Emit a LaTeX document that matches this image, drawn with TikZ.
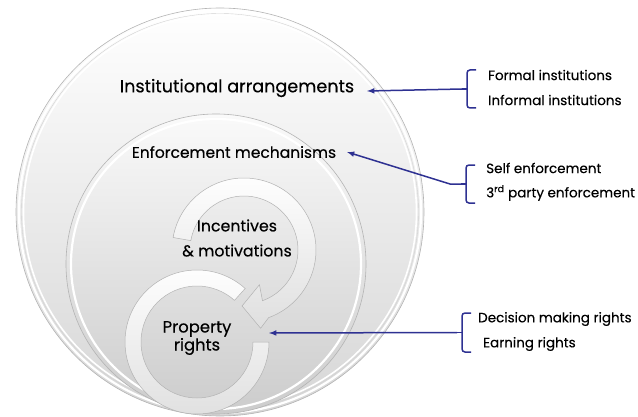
\documentclass[tikz,border=0pt]{standalone}
\usepackage{fontspec}
\setmainfont{Poppins}[FakeBold=0.35]
\usetikzlibrary{positioning}
\definecolor{linkblue}{RGB}{46,49,146}
\definecolor{rimgray}{RGB}{180,180,180}

\begin{document}
\begin{tikzpicture}[x=1pt, y=1pt,
    bubble/.style={draw=rimgray, line width=0.6pt},
    rim/.style={draw=white, line width=2.2pt},
    ring/.style={draw=gray!60, line width=0.5pt, top color=white, bottom color=gray!25},
    label/.style={inner sep=1pt, text=black, align=center},
    item/.style={inner sep=1pt, anchor=west, font=\fontsize{13.5}{16}\selectfont},
    link/.style={draw=linkblue, line width=1.5pt, ->, >=latex},
    brace/.style={draw=linkblue, line width=1.5pt, rounded corners=3pt}]
  \useasboundingbox (0,0) rectangle (638,416);
  \clip (0,0) rectangle (638,416);

  \coordinate (c1) at (220,204);
  \coordinate (c2) at (216,152);
  \coordinate (c3) at (244,166);
  \coordinate (c4) at (197,74);

  % outer and middle bubble
  \path[bubble, top color=white, bottom color=gray!32] (c1) circle (204);
  \draw[rim] (c1) circle (201);
  \draw[gray!35, line width=0.4pt] (c1) circle (198.5);
  \draw[white, line width=1.6pt] (c1) circle (196.5);
  \path[bubble, top color=gray!4, bottom color=gray!40] (c2) circle (150);
  \draw[rim] (c2) circle (145);

  % lower ring, then the upper arrow on top of it
  \path[ring, shift={(c4)}] (48:72) arc[start angle=48, end angle=360, radius=72]
    -- (0:56) arc[start angle=360, end angle=48, radius=56] -- cycle;
  \path[ring, shift={(c3)}] (170:72) arc[start angle=170, end angle=-70, radius=72]
    -- (-78:80) -- (-92:56) -- (-66:38) -- (-70:54)
    arc[start angle=-70, end angle=170, radius=54] -- cycle;

  \node[label, font=\fontsize{17.6}{20}\selectfont] (ia) at (237,328) {Institutional arrangements};
  \node[label, font=\fontsize{15.5}{17}\selectfont] (em) at (234,264) {Enforcement mechanisms};
  \node[label, font=\fontsize{15.8}{25}\selectfont] (im) at (237,178) {Incentives\\\& motivations};
  \node[label, font=\fontsize{16.4}{18}\selectfont] (pr) at (197,78) {Property\\rights};

  \node[item] (fi) at (487,341) {Formal institutions};
  \node[item, below=25pt of fi.west, anchor=west] (ii) {Informal institutions};
  \node[item] (se) at (485,248) {Self enforcement};
  \node[item, below=25pt of se.west, anchor=west] (tp) {3\textsuperscript{rd} party enforcement};
  \node[item] (dm) at (477,97) {Decision making rights};
  \node[item, below=25pt of dm.west, anchor=west, xshift=5pt] (er) {Earning rights};

  %brackets with a nub in the middle
  \foreach \n/\x/\yt/\yb in {b1/467/346/308, b2/466/251/213, b3/462/103/64} {
    \draw[brace] (\x+9,\yt) -- (\x,\yt) -- (\x,\yb) -- (\x+9,\yb);
    \coordinate (\n) at (\x-5,{(\yt+\yb)/2});
    \draw[brace] (\x,{(\yt+\yb)/2}) -- (\n);
  }

  \coordinate (t1) at (367,325);
  \coordinate (t2) at (347,264);
  \coordinate (k2) at (450,232);
  \coordinate (t3) at (269,83);
  \draw[link] (b1) -- (t1);
  \draw[link] (b2) -- (k2) -- (t2);
  \draw[link] (b3) -- (t3);
\end{tikzpicture}
\end{document}
